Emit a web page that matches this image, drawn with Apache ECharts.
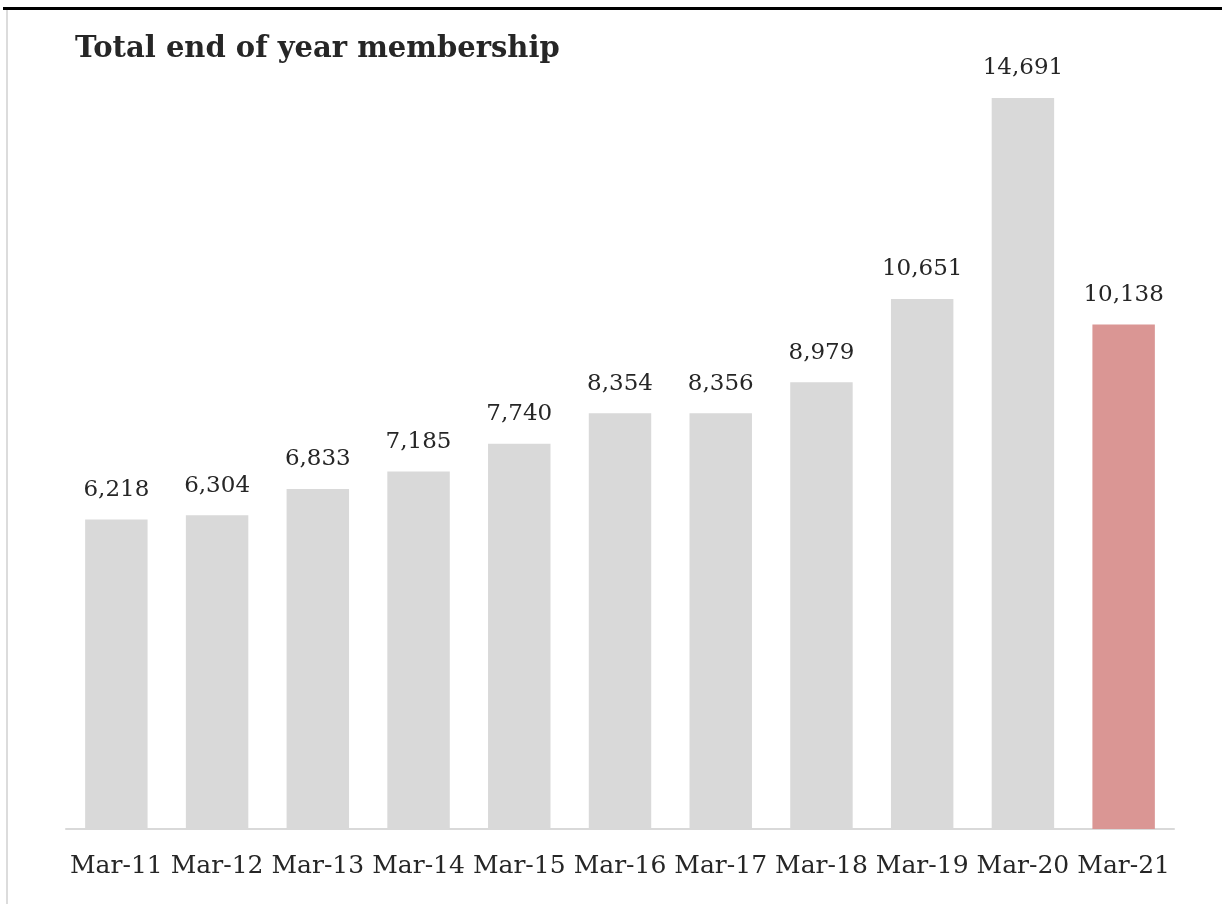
<!DOCTYPE html>
<html>
<head>
<meta charset="utf-8">
<script src="https://cdn.jsdelivr.net/npm/echarts@6/dist/echarts.min.js"></script>
<style>
  html, body { margin: 0; padding: 0; background: #fff; }
  #frame { position: absolute; left: 0; top: 0; width: 1222px; height: 904px; }
  #topline { position: absolute; left: 3px; right: 0; top: 7px; height: 3px; background: #000; }
  #leftline { position: absolute; left: 6px; top: 10px; bottom: 0; width: 2px; background: #dcdcdc; }
  #chart { position: absolute; left: 0; top: 0; width: 1222px; height: 904px; }
</style>
</head>
<body>
<div id="frame">
  <div id="topline"></div>
  <div id="leftline"></div>
  <div id="chart"></div>
</div>
<script>
    var categories = ['Mar-11','Mar-12','Mar-13','Mar-14','Mar-15','Mar-16','Mar-17','Mar-18','Mar-19','Mar-20','Mar-21'];
    var members = [6218, 6304, 6833, 7185, 7740, 8354, 8356, 8979, 10651, 14691, 10138];
    var highlightIndex = 10;

    var serif = '"DejaVu Serif", "Liberation Serif", serif';
    var barData = [];
    for (var i = 0; i < members.length; i++) {
        barData.push({
            value: members[i],
            itemStyle: { color: i == highlightIndex ? '#da9694' : '#d9d9d9' }
        });
    }

    var myChart = echarts.init(document.getElementById('chart'));
    var option = {
        animation: false,
        title: {
            text: 'Total end of year membership',
            left: 70,
            top: 30,
            textStyle: {
                fontFamily: serif,
                fontSize: 29,
                fontWeight: 'bold',
                color: '#262626'
            }
        },
        grid: { left: 66, right: 48, top: 98, bottom: 75 },
        xAxis: {
            type: 'category',
            data: categories,
            axisLine: { lineStyle: { color: '#d9d9d9', width: 2 } },
            axisTick: { show: false },
            axisLabel: {
                interval: 0,
                margin: 25,
                fontFamily: serif,
                fontSize: 25,
                color: '#262626'
            }
        },
        yAxis: {
            type: 'value',
            min: 0,
            max: function (v) { return v.max; },
            show: false,
            splitLine: { show: false }
        },
        series: [{
            type: 'bar',
            data: barData,
            barWidth: '62%',
            label: {
                show: true,
                position: 'top',
                distance: 18,
                fontFamily: serif,
                fontSize: 23,
                color: '#262626',
                formatter: function (p) {
                    return p.value.toLocaleString('en-US');
                }
            }
        }]
    };
    myChart.setOption(option);
</script>
</body>
</html>
